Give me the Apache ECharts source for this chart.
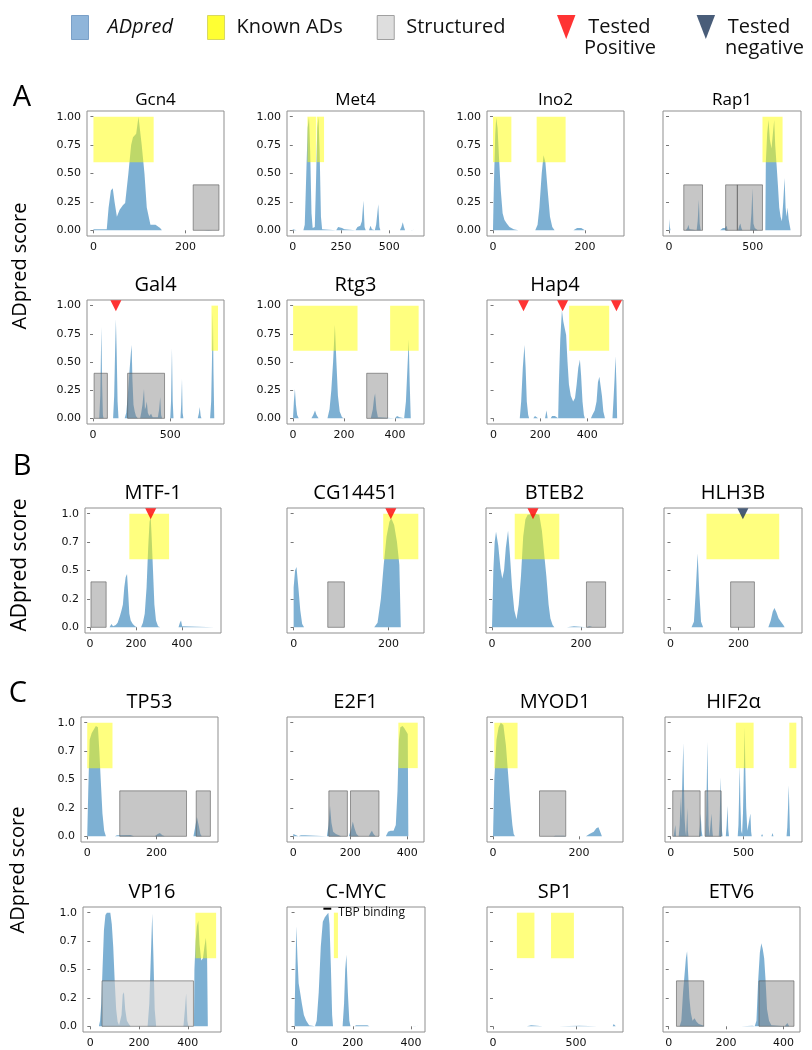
<!DOCTYPE html>
<html lang="en">
<head>
  <meta charset="UTF-8">
  <title>ADpred profiles - ECharts</title>
  <script src="https://cdn.jsdelivr.net/npm/echarts@6/dist/echarts.min.js"></script>
  <style>body { margin: 0; background: #fff; }</style>
</head>
<body>
  <div id="main" style="width: 812px; height: 1050px;"></div>

  <script>
    // ADpred score profiles, [residue, score]
    const gcn4 = [[0,0.01],[29,0.01],[33,0.2],[38,0.35],[42,0.37],[46,0.25],[51,0.12],[57,0.18],[64,0.22],[69,0.24],[76,0.5],[82,0.75],[86,0.82],[93,0.85],[98,1.0],[105,0.75],[111,0.5],[116,0.2],[124,0.05],[135,0.05],[145,0.02],[149,0],[240,0],[250,0.003],[260,0]];
    const met4 = [[0,0.01],[10,0.01],[20,0],[55,0],[62,0.05],[70,0.5],[77,0.9],[84,1.0],[90,0.7],[97,0.15],[103,0.02],[114,0.03],[120,0.4],[127,0.9],[133,1.0],[139,0.7],[146,0.12],[152,0.01],[156,0],[225,0],[235,0.03],[245,0.04],[255,0.02],[268,0.01],[272,0],[325,0],[335,0.03],[350,0.04],[358,0.08],[366,0.26],[372,0.03],[378,0],[395,0],[403,0.04],[410,0.01],[425,0],[432,0.05],[443,0.23],[449,0.03],[454,0],[555,0],[563,0.03],[570,0.07],[576,0.03],[582,0],[610,0],[615,0.005],[630,0.005],[635,0]];
    const ino2 = [[0,0],[2,0.4],[5,0.85],[7,0.99],[10,0.9],[13,0.65],[17,0.35],[21,0.15],[25,0.09],[30,0.06],[36,0.03],[45,0.01],[55,0],[92,0],[97,0.05],[101,0.2],[106,0.5],[110,0.66],[114,0.6],[119,0.35],[124,0.12],[129,0.03],[134,0],[175,0],[183,0.02],[192,0.02],[200,0]];
    const rap1 = [[0,0],[2,0.1],[5,0.03],[9,0],[100,0],[110,0.02],[116,0.05],[122,0.01],[128,0],[165,0],[171,0.08],[178,0.27],[183,0.06],[189,0],[305,0],[315,0.01],[322,0.02],[335,0.02],[344,0.04],[350,0],[412,0],[420,0.04],[426,0.06],[432,0.02],[438,0],[484,0],[492,0.15],[498,0.37],[504,0.06],[512,0.02],[522,0.03],[530,0],[575,0],[578,0.6],[586,0.85],[594,0.97],[602,0.8],[612,0.72],[620,0.85],[628,0.97],[634,0.75],[642,0.58],[650,0.4],[658,0.2],[666,0.12],[674,0.08],[682,0.25],[690,0.46],[696,0.2],[702,0.12],[708,0.2],[714,0.1],[720,0.05],[726,0]];
    const gal4 = [[0,0],[40,0],[47,0.2],[54,0.81],[59,0.3],[64,0.03],[68,0],[130,0],[137,0.2],[143,0.6],[148,0.88],[153,0.6],[159,0.15],[165,0],[205,0],[215,0.05],[225,0.2],[235,0.4],[245,0.58],[250,0.65],[255,0.35],[262,0.12],[270,0.06],[278,0.02],[290,0],[305,0],[312,0.05],[320,0.12],[330,0.26],[336,0.08],[342,0.1],[348,0.15],[355,0.05],[364,0.02],[376,0.04],[386,0.01],[420,0.01],[428,0.08],[435,0.19],[441,0.03],[447,0],[500,0],[505,0.15],[511,0.62],[516,0.15],[521,0],[566,0],[571,0.12],[576,0.35],[580,0.05],[585,0],[678,0],[685,0.04],[691,0.1],[697,0.02],[702,0],[758,0],[765,0.15],[770,0.5],[776,0.95],[780,0.4],[785,0]];
    const rtg3 = [[0,0.02],[3,0.15],[7,0.26],[11,0.12],[16,0.03],[22,0],[72,0],[79,0.03],[86,0.07],[92,0.03],[100,0],[135,0],[143,0.08],[150,0.25],[157,0.5],[164,0.83],[170,0.5],[176,0.2],[183,0.06],[192,0.01],[200,0],[305,0],[313,0.08],[318,0.18],[322,0.22],[327,0.08],[333,0.01],[338,0],[400,0],[408,0.02],[418,0.01],[436,0],[443,0.15],[449,0.45],[454,0.7],[458,0.3],[462,0]];
    const hap4 = [[8,0],[14,0.01],[20,0],[112,0],[118,0.15],[125,0.45],[132,0.65],[137,0.45],[142,0.15],[148,0.03],[152,0],[170,0],[177,0.02],[185,0.01],[190,0],[220,0],[226,0.07],[231,0],[244,0],[250,0.02],[262,0.02],[268,0.01],[276,0],[279,0.3],[285,0.7],[292,0.96],[298,0.86],[304,0.8],[310,0.74],[316,0.5],[322,0.3],[330,0.2],[340,0.15],[348,0.18],[355,0.3],[362,0.45],[369,0.52],[374,0.38],[380,0.15],[386,0.03],[390,0],[416,0],[422,0.03],[432,0.07],[440,0.15],[446,0.32],[452,0.37],[458,0.38],[463,0.2],[469,0.06],[476,0],[508,0],[512,0.15],[517,0.35],[521,0.55],[525,0.3],[528,0]];
    const mtf1 = [[0,0],[85,0],[93,0.03],[100,0.01],[106,0],[112,0.02],[120,0.04],[130,0.1],[137,0.15],[143,0.2],[149,0.35],[155,0.44],[161,0.47],[166,0.3],[171,0.12],[177,0.06],[186,0.03],[196,0.01],[205,0],[222,0],[230,0.04],[238,0.12],[246,0.35],[253,0.7],[259,0.93],[264,0.97],[268,0.8],[274,0.5],[280,0.2],[287,0.06],[296,0.01],[305,0],[385,0],[391,0.04],[396,0.06],[401,0.01],[407,0],[540,0]];
    const cg14451 = [[0,0.35],[3,0.5],[6,0.53],[10,0.35],[14,0.15],[18,0.03],[22,0],[170,0],[177,0.04],[184,0.25],[190,0.55],[196,0.8],[202,0.93],[206,0.96],[212,0.9],[218,0.75],[223,0.55],[226,0]];
    const bteb2 = [[0,0],[3,0.5],[6,0.75],[9,0.84],[14,0.72],[19,0.52],[23,0.43],[27,0.5],[31,0.7],[36,0.85],[40,0.65],[45,0.35],[50,0.15],[55,0.07],[60,0.2],[65,0.45],[70,0.8],[75,0.95],[80,0.99],[95,1.0],[106,0.99],[112,0.85],[117,0.65],[122,0.45],[127,0.2],[131,0.08],[136,0.02],[140,0],[168,0],[172,0.01],[184,0.01],[188,0],[212,0],[218,0.01],[225,0.01],[228,0]];
    const hlh3b = [[62,0],[69,0.05],[74,0.3],[80,0.65],[85,0.3],[90,0.05],[96,0],[288,0],[295,0.06],[301,0.14],[306,0.17],[312,0.13],[318,0.08],[325,0.05],[332,0.02],[336,0]];
    const tp53 = [[0,0],[3,0.4],[7,0.85],[13,0.91],[19,0.94],[25,0.97],[31,0.96],[35,0.75],[39,0.5],[44,0.2],[49,0.05],[54,0],[80,0],[86,0.01],[125,0.012],[135,0],[195,0],[204,0.02],[210,0.03],[217,0.01],[224,0],[307,0],[312,0.08],[317,0.17],[322,0.1],[327,0.02],[331,0]];
    const e2f1 = [[0,0.02],[4,0.03],[10,0.01],[18,0],[27,0.01],[34,0.02],[41,0.01],[47,0],[118,0],[124,0.1],[129,0.27],[134,0.12],[140,0.04],[150,0.02],[160,0.01],[168,0],[195,0],[203,0.06],[209,0.13],[215,0.07],[222,0.02],[230,0],[265,0],[271,0.03],[276,0.05],[282,0.02],[289,0],[325,0],[333,0.04],[342,0.05],[352,0.05],[360,0.1],[366,0.4],[371,0.85],[376,0.96],[384,0.97],[390,0.95],[396,0.96],[402,0.9],[404,0]];
    const myod1 = [[0,0],[3,0.5],[8,0.85],[13,0.96],[18,1.0],[24,0.98],[30,0.8],[35,0.55],[40,0.3],[45,0.1],[48,0.02],[51,0],[140,0],[145,0.005],[165,0.005],[170,0],[216,0],[224,0.02],[234,0.04],[240,0.07],[245,0.08],[249,0.04],[253,0]];
    const hif2a = [[20,0],[26,0.05],[32,0.1],[37,0],[55,0],[62,0.1],[68,0.35],[72,0.15],[76,0.3],[82,0.6],[87,0.82],[91,0.45],[96,0.15],[101,0.05],[106,0],[109,0],[114,0.25],[118,0.05],[122,0],[194,0],[200,0.08],[206,0.2],[212,0.05],[218,0],[238,0],[244,0.2],[248,0.5],[252,0.83],[256,0.45],[260,0.1],[266,0],[274,0],[280,0.2],[286,0.05],[290,0],[330,0],[336,0.15],[340,0.35],[344,0.52],[348,0.2],[352,0.05],[356,0],[378,0],[384,0.1],[390,0.27],[395,0.06],[400,0],[460,0],[465,0.1],[470,0.4],[474,0.62],[478,0.3],[484,0.05],[490,0.02],[496,0.2],[502,0.6],[508,0.96],[512,0.6],[518,0.25],[526,0.05],[538,0.05],[547,0.2],[552,0.04],[556,0],[620,0],[627,0.02],[634,0],[692,0],[699,0.03],[705,0],[795,0],[800,0.08],[805,0.25],[810,0.45],[815,0.2],[819,0]];
    const vp16 = [[35,0],[40,0.05],[45,0.2],[50,0.5],[56,0.85],[62,0.98],[68,1.0],[82,1.0],[88,0.9],[94,0.7],[100,0.4],[106,0.15],[112,0.04],[118,0.01],[122,0],[128,0.1],[133,0.28],[138,0.3],[143,0.15],[150,0.05],[158,0.02],[165,0],[235,0],[242,0.2],[248,0.6],[254,0.99],[259,0.6],[264,0.15],[270,0],[382,0],[388,0.15],[393,0.29],[398,0.05],[402,0],[425,0],[427,0.5],[432,0.75],[437,0.88],[443,0.93],[448,0.72],[455,0.58],[462,0.6],[468,0.7],[474,0.78],[479,0.6],[482,0]];
    const cmyc = [[0,0.1],[3,0.5],[6,0.88],[10,0.6],[14,0.38],[19,0.3],[25,0.2],[32,0.1],[40,0.05],[50,0.01],[56,0],[70,0],[76,0.05],[83,0.3],[90,0.7],[97,0.92],[104,0.96],[110,0.97],[116,1.0],[120,0.9],[125,0.5],[129,0.1],[132,0],[165,0],[170,0.2],[174,0.5],[178,0.63],[183,0.3],[188,0.05],[192,0],[205,0],[212,0.01],[250,0.01],[257,0],[405,0],[410,0.005],[430,0.005],[435,0]];
    const sp1 = [[0,0],[80,0],[84,0.01],[88,0],[150,0],[155,0.01],[160,0],[205,0],[212,0.01],[230,0.01],[236,0],[300,0],[308,0.015],[315,0],[400,0],[410,0.005],[520,0.005],[526,0],[630,0],[634,0.01],[638,0],[722,0],[728,0.02],[735,0.015],[740,0]];
    const etv6 = [[38,0],[44,0.05],[50,0.3],[55,0.45],[60,0.6],[64,0.66],[68,0.45],[72,0.25],[77,0.12],[83,0.05],[90,0.07],[97,0.04],[105,0.02],[118,0.01],[125,0],[254,0],[260,0.005],[292,0.005],[300,0],[306,0.05],[312,0.4],[318,0.65],[323,0.73],[328,0.68],[333,0.6],[338,0.4],[343,0.15],[350,0.05],[358,0.01],[362,0],[405,0],[414,0.03],[420,0]];

    // known activation domains, [start, end]
    const gcn4Known = [[0,131]];
    const met4Known = [[76,120],[124,162]];
    const ino2Known = [[0,40],[95,158]];
    const rap1Known = [[558,678]];
    const gal4Known = [[767,809]];
    const rtg3Known = [[0,253],[381,493]];
    const hap4Known = [[323,494]];
    const mtf1Known = [[171,344]];
    const cg14451Known = [[189,263]];
    const bteb2Known = [[51,151]];
    const hlh3bKnown = [[106,320]];
    const tp53Known = [[0,73]];
    const e2f1Known = [[369,437]];
    const myod1Known = [[3,57]];
    const hif2aKnown = [[447,569],[814,862]];
    const vp16Known = [[431,516]];
    const cmycKnown = [[135,149]];
    const sp1Known = [[144,250],[350,488]];

    // structured regions, [start, end]
    const gcn4Struct = [[217,273]];
    const rap1Struct = [[88,200],[338,408],[408,558]];
    const gal4Struct = [[7,93],[224,463]];
    const rtg3Struct = [[289,371]];
    const mtf1Struct = [[4,70]];
    const cg14451Struct = [[72,107]];
    const bteb2Struct = [[212,255]];
    const hlh3bStruct = [[177,247]];
    const tp53Struct = [[94,287],[315,356]];
    const e2f1Struct = [[125,190],[201,301]];
    const myod1Struct = [[108,169]];
    const hif2aStruct = [[14,202],[236,346]];
    const vp16Struct = [[48,423]];
    const etv6Struct = [[27,122],[315,437]];

    // tested fragments (residue of the triangle)
    const gal4Pos = [148];
    const hap4Pos = [128,295,525];
    const mtf1Pos = [264];
    const cg14451Pos = [205];
    const bteb2Pos = [92];
    const hlh3bNeg = [213];

    // C-MYC TBP binding mark [start, end]
    const cmycTbp = [[99,126]];

    // axis ticks
    const scoreTicks = [0, 0.25, 0.5, 0.75, 1];
    const scoreLabelsA = ['0.00', '0.25', '0.50', '0.75', '1.00'];
    const scoreLabelsBC = ['0.0', '0.2', '0.5', '0.7', '1.0'];
    const KNOWN_Y = [0.6, 1.0];
    const STRUCT_Y = [0, 0.4];

    // panel table: data + frame [left, top, width, height] + x range + title size
    const panels = [
      { name: 'Gcn4', score: gcn4, known: gcn4Known, struct: gcn4Struct, xr: [-14, 284], xt: [0, 200], box: [87, 111, 137, 125], ylab: scoreLabelsA, ts: 17 },
      { name: 'Met4', score: met4, known: met4Known, struct: [], xr: [-30, 680], xt: [0, 250, 500], box: [287, 111, 137, 125], ylab: scoreLabelsA, ts: 17 },
      { name: 'Ino2', score: ino2, known: ino2Known, struct: [], xr: [-13, 285], xt: [0, 200], box: [487, 111, 137, 125], ylab: scoreLabelsA, ts: 17 },
      { name: 'Rap1', score: rap1, known: rap1Known, struct: rap1Struct, xr: [-36, 788], xt: [0, 500], box: [663, 111, 138, 125], ylab: null, ts: 17 },
      { name: 'Gal4', score: gal4, known: gal4Known, struct: gal4Struct, pos: gal4Pos, xr: [-39, 848], xt: [0, 500], box: [87, 300, 137, 124], ylab: scoreLabelsA, ts: 20 },
      { name: 'Rtg3', score: rtg3, known: rtg3Known, struct: rtg3Struct, xr: [-24, 514], xt: [0, 200, 400], box: [287, 300, 137, 124], ylab: scoreLabelsA, ts: 20 },
      { name: 'Hap4', score: hap4, known: hap4Known, struct: [], pos: hap4Pos, xr: [-28, 553], xt: [0, 200, 400], box: [487, 300, 136, 124], ylab: null, ts: 20 },
      { name: 'MTF-1', score: mtf1, known: mtf1Known, struct: mtf1Struct, pos: mtf1Pos, xr: [-22, 570], xt: [0, 200, 400], box: [85, 508, 136, 125], ylab: scoreLabelsBC, ts: 20 },
      { name: 'CG14451', score: cg14451, known: cg14451Known, struct: cg14451Struct, pos: cg14451Pos, xr: [-14, 275], xt: [0, 200], box: [287, 508, 137, 125], ylab: null, ts: 20 },
      { name: 'BTEB2', score: bteb2, known: bteb2Known, struct: bteb2Struct, pos: bteb2Pos, xr: [-13.5, 294], xt: [0, 200], box: [486, 508, 137, 125], ylab: null, ts: 20 },
      { name: 'HLH3B', score: hlh3b, known: hlh3bKnown, struct: hlh3bStruct, neg: hlh3bNeg, xr: [-19, 387], xt: [0, 200], box: [664, 508, 138, 125], ylab: null, ts: 20 },
      { name: 'TP53', score: tp53, known: tp53Known, struct: tp53Struct, xr: [-18, 378], xt: [0, 200], box: [81, 717, 137, 125], ylab: scoreLabelsBC, ts: 20 },
      { name: 'E2F1', score: e2f1, known: e2f1Known, struct: e2f1Struct, xr: [-22, 459], xt: [0, 200, 400], box: [287, 717, 137, 125], ylab: null, ts: 20 },
      { name: 'MYOD1', score: myod1, known: myod1Known, struct: myod1Struct, xr: [-14, 302], xt: [0, 200], box: [487, 717, 136, 125], ylab: null, ts: 20 },
      { name: 'HIF2α', score: hif2a, known: hif2aKnown, struct: hif2aStruct, xr: [-39, 901], xt: [0, 500], box: [665, 717, 137, 125], ylab: null, ts: 20 },
      { name: 'VP16', score: vp16, known: vp16Known, struct: vp16Struct, xr: [-30, 536], xt: [0, 200, 400], box: [83, 907, 138, 125], ylab: scoreLabelsBC, lightStruct: true, ts: 20 },
      { name: 'C-MYC', score: cmyc, known: cmycKnown, struct: [], tbp: cmycTbp, xr: [-26, 448], xt: [0, 200, 400], box: [287, 907, 138, 125], ylab: null, ts: 20 },
      { name: 'SP1', score: sp1, known: sp1Known, struct: [], xr: [-36, 784], xt: [0, 500], box: [487, 907, 136, 125], ylab: null, ts: 20 },
      { name: 'ETV6', score: etv6, known: [], struct: etv6Struct, xr: [-20, 458], xt: [0, 200, 400], box: [663, 907, 137, 125], ylab: null, ts: 20 }
    ];

    const FONT = '"Open Sans", "DejaVu Sans", sans-serif';
    const BLUE = 'rgba(31,119,180,0.58)';
    const YELLOW = 'rgba(255,255,0,0.5)';
    const GREY = 'rgba(128,128,128,0.45)';
    const GREY_LIGHT = 'rgba(205,205,205,0.6)';

    // rectangle in data space: [x0, x1, y0, y1]
    function boxItem(params, api) {
      const a = api.coord([api.value(0), api.value(3)]);
      const b = api.coord([api.value(1), api.value(2)]);
      return {
        type: 'rect',
        shape: { x: a[0], y: a[1], width: b[0] - a[0], height: b[1] - a[1] },
        style: api.style()
      };
    }

    function tbpItem(params, api) {
      const a = api.coord([api.value(0), 1.035]);
      const b = api.coord([api.value(1), 1.035]);
      return {
        type: 'group',
        children: [
          { type: 'line', shape: { x1: a[0], y1: a[1], x2: b[0], y2: b[1] }, style: { stroke: '#000', lineWidth: 2 } },
          { type: 'text', x: b[0] + 7, y: a[1] + 4, style: { text: 'TBP binding', font: '12px ' + FONT, fill: '#111', textVerticalAlign: 'middle' } }
        ]
      };
    }

    let grids = [], xAxes = [], yAxes = [], series = [], titles = [];

    panels.forEach((p, i) => {
      grids.push({
        left: p.box[0], top: p.box[1], width: p.box[2], height: p.box[3],
        show: true, borderColor: '#8f8f8f', borderWidth: 1, backgroundColor: '#fff'
      });
      xAxes.push({
        gridIndex: i, type: 'value', min: p.xr[0], max: p.xr[1],
        axisLine: { show: false }, splitLine: { show: false },
        axisTick: { show: true, length: 3, customValues: p.xt, lineStyle: { color: '#777' } },
        axisLabel: { customValues: p.xt, margin: 6, fontSize: 11, color: '#111', fontFamily: 'DejaVu Sans' }
      });
      const labs = p.ylab;
      yAxes.push({
        gridIndex: i, type: 'value', min: -0.05, max: 1.05,
        axisLine: { show: false }, splitLine: { show: false },
        axisTick: { show: true, length: 3, customValues: scoreTicks, lineStyle: { color: '#777' } },
        axisLabel: {
          show: !!labs, customValues: scoreTicks, margin: 6, fontSize: 11, color: '#111', fontFamily: 'DejaVu Sans',
          formatter: v => labs ? labs[scoreTicks.indexOf(v)] : ''
        }
      });
      titles.push({
        text: p.name, left: p.box[0] + p.box[2] / 2, top: p.box[1] - (p.ts > 17 ? 15 : 11),
        textAlign: 'center', textVerticalAlign: 'middle', padding: 0,
        textStyle: { fontFamily: FONT, fontSize: p.ts, fontWeight: 'normal', color: '#000' }
      });

      series.push({
        name: 'ADpred', type: 'line', xAxisIndex: i, yAxisIndex: i,
        data: p.score, symbol: 'none', smooth: false, z: 2,
        color: BLUE, lineStyle: { width: 0 }, areaStyle: { color: BLUE, opacity: 1 }
      });
      if (p.known.length) {
        series.push({
          name: 'Known ADs', type: 'custom', xAxisIndex: i, yAxisIndex: i, z: 3,
          renderItem: boxItem, itemStyle: { color: YELLOW },
          data: p.known.map(d => [d[0], d[1], KNOWN_Y[0], KNOWN_Y[1]])
        });
      }
      if (p.struct.length) {
        series.push({
          name: 'Structured', type: 'custom', xAxisIndex: i, yAxisIndex: i, z: 4,
          renderItem: boxItem,
          itemStyle: { color: p.lightStruct ? GREY_LIGHT : GREY, borderColor: 'rgba(90,90,90,0.6)', borderWidth: 1 },
          data: p.struct.map(d => [d[0], d[1], STRUCT_Y[0], STRUCT_Y[1]])
        });
      }
      if (p.pos) {
        series.push({
          name: 'Tested Positive', type: 'scatter', xAxisIndex: i, yAxisIndex: i, z: 6,
          symbol: 'triangle', symbolRotate: 180, symbolSize: [11, 11],
          itemStyle: { color: '#ff0000' }, data: p.pos.map(x => [x, 1.0])
        });
      }
      if (p.neg) {
        series.push({
          name: 'Tested negative', type: 'scatter', xAxisIndex: i, yAxisIndex: i, z: 6,
          symbol: 'triangle', symbolRotate: 180, symbolSize: [11, 11],
          itemStyle: { color: '#1c3557' }, data: p.neg.map(x => [x, 1.0])
        });
      }
      if (p.tbp) {
        series.push({
          type: 'custom', xAxisIndex: i, yAxisIndex: i, z: 6, silent: true,
          renderItem: tbpItem, data: p.tbp
        });
      }
    });

    const tri = 'path://M0,0L10,0L5,13Z';
    const legendText = { fontFamily: FONT, fontSize: 20, color: '#111', padding: [0, 0, 0, 7] };

    const option = {
      animation: false,
      backgroundColor: '#fff',
      title: titles,
      grid: grids,
      xAxis: xAxes,
      yAxis: yAxes,
      legend: [
        {
          left: 66, top: 10, itemWidth: 17, itemHeight: 24, itemGap: 34, selectedMode: false,
          textStyle: Object.assign({ rich: { it: { fontStyle: 'italic', fontFamily: FONT, fontSize: 20, padding: [0, 0, 0, 7] } } }, legendText),
          formatter: n => n === 'ADpred' ? '{it|ADpred}' : n,
          data: [
            { name: 'ADpred', icon: 'rect', itemStyle: { color: '#8fb5da', borderColor: '#7aa0c8', borderWidth: 1 } },
            { name: 'Known ADs', icon: 'rect', itemStyle: { color: '#ffff33', borderColor: '#d8d860', borderWidth: 1 } },
            { name: 'Structured', icon: 'rect', itemStyle: { color: '#dedede', borderColor: '#a0a0a0', borderWidth: 1 } }
          ]
        },
        {
          left: 552, top: 10, itemWidth: 20, itemHeight: 24, itemGap: 46, selectedMode: false,
          textStyle: legendText,
          formatter: n => n.split(' ')[0],
          data: [
            { name: 'Tested Positive', icon: tri, itemStyle: { color: '#ff0000' } },
            { name: 'Tested negative', icon: tri, itemStyle: { color: '#1c3557' } }
          ]
        }
      ],
      graphic: [
        { type: 'text', x: 584, y: 48, style: { text: 'Positive', font: '20px ' + FONT, fill: '#111', textVerticalAlign: 'middle' } },
        { type: 'text', x: 725, y: 48, style: { text: 'negative', font: '20px ' + FONT, fill: '#111', textVerticalAlign: 'middle' } },
        { type: 'text', x: 22, y: 98, style: { text: 'A', font: '29px ' + FONT, fill: '#000', textAlign: 'center', textVerticalAlign: 'middle' } },
        { type: 'text', x: 22, y: 467, style: { text: 'B', font: '29px ' + FONT, fill: '#000', textAlign: 'center', textVerticalAlign: 'middle' } },
        { type: 'text', x: 18, y: 694, style: { text: 'C', font: '29px ' + FONT, fill: '#000', textAlign: 'center', textVerticalAlign: 'middle' } },
        { type: 'text', x: 20, y: 266, rotation: Math.PI / 2, style: { text: 'ADpred score', font: '20px ' + FONT, fill: '#000', textAlign: 'center', textVerticalAlign: 'middle' } },
        { type: 'text', x: 20, y: 565, rotation: Math.PI / 2, style: { text: 'ADpred score', font: '21px ' + FONT, fill: '#000', textAlign: 'center', textVerticalAlign: 'middle' } },
        { type: 'text', x: 18, y: 870, rotation: Math.PI / 2, style: { text: 'ADpred score', font: '20px ' + FONT, fill: '#000', textAlign: 'center', textVerticalAlign: 'middle' } }
      ],
      series: series
    };

    const chart = echarts.init(document.getElementById('main'));
    chart.setOption(option);
  </script>
</body>
</html>
